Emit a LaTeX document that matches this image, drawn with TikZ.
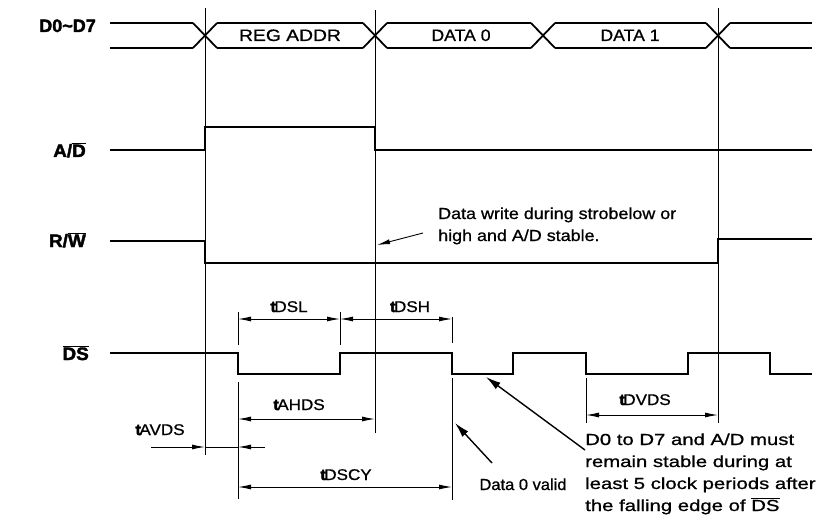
\documentclass[tikz,border=0pt]{standalone}
\usepackage{fontspec}
\setmainfont{Liberation Sans}[FakeBold=0.8, BoldFeatures={FakeBold=2}]
\usepackage{graphicx}
\usetikzlibrary{arrows.meta}
\usetikzlibrary{calc}

\newcommand{\tsym}[1]{{\bfseries t}\kern-1.5pt#1}
\newcommand{\ovl}[1]{$\overline{\hbox{#1}}$}
\newcommand{\wide}[2][1.1]{\scalebox{#1}[1]{#2}}

\begin{document}
\begin{tikzpicture}[
  x=1pt, y=-1pt,
  sig/.style={line width=1.8pt},
  guide/.style={line width=1pt},
  dim/.style={{Latex[length=13pt,width=5pt]}-{Latex[length=13pt,width=5pt]}, line width=0.9pt},
  arrow/.style={-{Latex[length=13pt,width=5pt]}, line width=0.9pt},
  pointer/.style={-{Latex[length=15pt,width=8pt]}, line width=1.4pt},
  siglabel/.style={font=\bfseries\fontsize{18}{20}\selectfont, anchor=base east, inner sep=0pt},
  bustext/.style={font=\fontsize{16.5}{18}\selectfont, anchor=base, inner sep=0pt},
  tlabel/.style={font=\fontsize{15.5}{17}\selectfont, anchor=base, inner sep=0pt},
  note/.style={font=\fontsize{16}{22}\selectfont, anchor=base west, inner sep=0pt}
]
\useasboundingbox (0,0) rectangle (826,521);

% signal names
\node[siglabel] (lbl-bus) at (96,32) {\wide[1.0]{D0\char`~D7}};
\node[siglabel] (lbl-ad) at (86,157) {\wide[1.05]{A/\ovl{D}}};
\node[siglabel] (lbl-rw) at (86,247) {\wide[1.05]{R/\ovl{W}}};
\node[siglabel] (lbl-ds) at (89,360) {\wide[1.05]{\ovl{DS}}};

% data bus
\foreach \cx in {205,375,543,718} {
  \draw[sig] (\cx-12,23) -- (\cx+12,48);
  \draw[sig] (\cx-12,48) -- (\cx+12,23);
}
\draw[sig] (110,23) -- (193,23) (217,23) -- (363,23) (387,23) -- (531,23)
  (555,23) -- (706,23) (730,23) -- (812,23);
\draw[sig] (110,48) -- (193,48) (217,48) -- (363,48) (387,48) -- (531,48)
  (555,48) -- (706,48) (730,48) -- (812,48);
\node[bustext] (regaddr) at (290,41) {\wide[1.17]{REG ADDR}};
\node[bustext] (data0) at (461,41) {\wide[1.07]{DATA 0}};
\node[bustext] (data1) at (630,41) {\wide[1.07]{DATA 1}};

% A/D, R/W and DS
\draw[sig] (110,150) -- (205,150) -- (205,127) -- (375,127) -- (375,150) -- (812,150);
\draw[sig] (110,241) -- (205,241) -- (205,263) -- (718,263) -- (718,239) -- (812,239);
\draw[sig] (110,353) -| (238,374) -| (340,353) -| (452,374) -| (513,353)
  -| (586,374) -| (688,353) -| (770,374) -- (812,374);

% reference lines
\draw[guide] (205,8) -- (205,455);
\draw[guide] (375,10) -- (375,433);
\draw[guide] (718,8) -- (718,423);
\draw[guide] (238,312) -- (238,345) (340,312) -- (340,345) (452,317) -- (452,343);
\draw[guide] (238,382) -- (238,499) (452,378) -- (452,500) (586,378) -- (586,423);

% timing dimensions
\coordinate (dsl-l) at (238,319);
\coordinate (dsl-r) at (340,319);
\coordinate (dsh-r) at (452,319);
\coordinate (ahds-l) at (238,419);
\coordinate (ahds-r) at (375,419);
\coordinate (avds-out) at (151,447);
\coordinate (avds-a) at (205,447);
\coordinate (avds-b) at (238,447);
\coordinate (avds-in) at (265,447);
\coordinate (dscy-l) at (238,487);
\coordinate (dscy-r) at (452,487);
\coordinate (dvds-l) at (586,415);
\coordinate (dvds-r) at (718,415);

\draw[dim] (dsl-l) -- (dsl-r);
\draw[dim] (dsl-r) -- (dsh-r);
\draw[dim] (ahds-l) -- (ahds-r);
\draw[arrow] (avds-out) -- (avds-a);
\draw[guide, line width=0.9pt] (avds-a) -- (avds-b);
\draw[arrow] (avds-in) -- (avds-b);
\draw[dim] (dscy-l) -- (dscy-r);
\draw[dim] (dvds-l) -- (dvds-r);

\node[tlabel] (t-dsl) at (289,312) {\wide{\tsym{DSL}}};
\node[tlabel] (t-dsh) at (410,312) {\wide{\tsym{DSH}}};
\node[tlabel] (t-ahds) at (299,410) {\wide{\tsym{AHDS}}};
\node[tlabel] (t-avds) at (160,435) {\wide{\tsym{AVDS}}};
\node[tlabel] (t-dscy) at (346,480) {\wide{\tsym{DSCY}}};
\node[tlabel] (t-dvds) at (645,405) {\wide{\tsym{DVDS}}};

% notes
\node[note] (note-write) at (438,219) {\wide[1.12]{\begin{tabular}[t]{@{}l@{}}
  Data write during strobelow or\\
  high and A/D stable.
\end{tabular}}};
\node[tlabel, font=\fontsize{16}{18}\selectfont] (note-valid) at (523,490) {\wide[1.03]{Data 0 valid}};
\node[note] (note-stable) at (585,445) {\wide[1.27]{\begin{tabular}[t]{@{}l@{}}
  D0 to D7 and A/D must\\
  remain stable during at\\
  least 5 clock periods after\\
  the falling edge of \ovl{DS}
\end{tabular}}};

\coordinate (wr-tail) at (423,233);
\coordinate (wr-tip) at (377,245);
\coordinate (valid-tail) at (492,463);
\coordinate (valid-tip) at (455,423);
\coordinate (stable-tail) at (585,450);
\coordinate (stable-tip) at (486,377);
\draw[arrow] (wr-tail) -- (wr-tip);
\draw[pointer] (valid-tail) -- (valid-tip);
\draw[pointer] (stable-tail) -- (stable-tip);

\end{tikzpicture}
\end{document}
